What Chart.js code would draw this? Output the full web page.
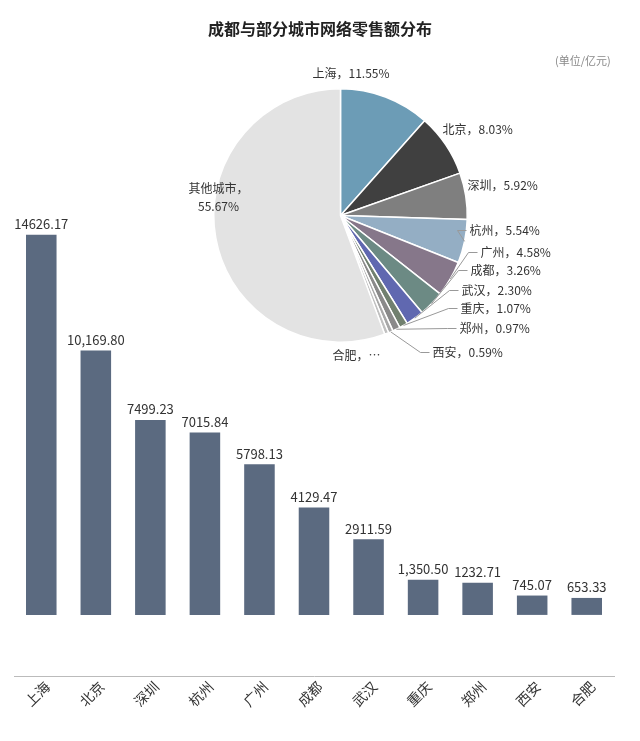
<!DOCTYPE html>
<html><head><meta charset="utf-8">
<script src="https://cdn.jsdelivr.net/npm/chart.js@4"></script>
<style>
body{margin:0;background:#fff;font-family:"Noto Sans CJK SC",sans-serif}
#wrap{position:relative;width:640px;height:741px}
#bar{position:absolute;left:0;top:0}
#pie{position:absolute;left:0;top:0}
#title{position:absolute;top:16px;width:640px;text-align:center;font-weight:bold;font-size:16px;color:#222}
#unit{position:absolute;top:52px;left:555px;font-size:11px;color:#888}
</style></head>
<body><div id="wrap">
<canvas id="bar" width="640" height="741"></canvas>
<canvas id="pie" width="640" height="741"></canvas>
<div id="title">成都与部分城市网络零售额分布</div>
<div id="unit">(单位/亿元)</div>
</div>
<script>
// 柱状图数据
const cities = ["上海","北京","深圳","杭州","广州","成都","武汉","重庆","郑州","西安","合肥"];
const sales = [14626.17,10169.80,7499.23,7015.84,5798.13,4129.47,2911.59,1350.50,1232.71,745.07,653.33];
const salesText = ["14626.17","10,169.80","7499.23","7015.84","5798.13","4129.47","2911.59","1,350.50","1232.71","745.07","653.33"];

// 饼图数据
const pieNames = ["上海","北京","深圳","杭州","广州","成都","武汉","重庆","郑州","西安","合肥","其他城市"];
const pieShares = [11.55,8.03,5.92,5.54,4.58,3.26,2.30,1.07,0.97,0.59,0.52,55.67];
const pieText = ["上海，11.55%","北京，8.03%","深圳，5.92%","杭州，5.54%","广州，4.58%","成都，3.26%","武汉，2.30%","重庆，1.07%","郑州，0.97%","西安，0.59%","合肥，…","其他城市，\n55.67%"];
const pieColors = ["#6c9cb6","#404040","#7f7f7f","#94aec4","#86778a","#6c8a84","#6068b0","#71806f","#8a8a8a","#a8a8a8","#c0c0c0","#e3e3e3"];

const FONT = '"Noto Sans CJK SC", sans-serif';

/* ---- 柱顶数值 + 旋转的类别标签 ---- */
const barLabels = {
  id: "barLabels",
  afterDatasetsDraw(chart) {
    const ctx = chart.ctx;
    const meta = chart.getDatasetMeta(0);
    const base = chart.scales.y.bottom;
    ctx.save();
    ctx.fillStyle = "#333";
    ctx.font = "13px " + FONT;
    ctx.textAlign = "center";
    ctx.textBaseline = "bottom";
    meta.data.forEach((b, i) => {
      ctx.fillText(salesText[i], b.x, b.y - 4);
    });
    ctx.font = "14px " + FONT;
    meta.data.forEach((b, i) => {
      ctx.save();
      ctx.translate(b.x + 6, base + 8);
      ctx.rotate(-Math.PI / 4);
      ctx.textAlign = "right";
      ctx.textBaseline = "middle";
      ctx.fillText(cities[i], 0, 0);
      ctx.restore();
    });
    ctx.restore();
  }
};

new Chart(document.getElementById("bar"), {
  type: "bar",
  data: { labels: cities, datasets: [{ data: sales, backgroundColor: "#5b6a80",
    barPercentage: 0.56, categoryPercentage: 1 }] },
  options: {
    responsive: false, animation: false,
    layout: { padding: { left: 14, right: 26, top: 199, bottom: 65 } },
    plugins: { legend: { display: false }, tooltip: { enabled: false } },
    scales: {
      x: { ticks: { display: false }, grid: { display: false, drawTicks: false },
           border: { color: "#bbb" } },
      y: { display: false, min: -2350, max: 16000 }
    }
  },
  plugins: [barLabels]
});

/* ---- 饼图标签（引导线） ---- */
const labelPos = [[-28,-142],[102,-86],[127,-30],[129,15],[140,37],[130,55],[121,75],[120,93],[119,113],[92,137],[-8,140],[-122,-18]];
const pieLabels = {
  id: "pieLabels",
  afterDatasetsDraw(chart) {
    const ctx = chart.ctx;
    const meta = chart.getDatasetMeta(0);
    ctx.save();
    ctx.font = "12px " + FONT;
    ctx.fillStyle = "#333";
    ctx.strokeStyle = "#999";
    ctx.lineWidth = 1;
    meta.data.forEach((a, i) => {
      const mid = (a.startAngle + a.endAngle) / 2;
      const cx = a.x, cy = a.y;
      const tx = cx + labelPos[i][0], ty = cy + labelPos[i][1];
      const lines = pieText[i].split("\n");
      if (i >= 3 && i <= 9) {
        const ax = cx + Math.cos(mid) * a.outerRadius;
        const ay = cy + Math.sin(mid) * a.outerRadius;
        ctx.beginPath();
        ctx.moveTo(ax, ay);
        ctx.lineTo(tx - 12, ty);
        ctx.lineTo(tx - 3, ty);
        ctx.stroke();
      }
      ctx.textAlign = i === 11 ? "center" : "left";
      ctx.textBaseline = "middle";
      lines.forEach((l, k) => ctx.fillText(l, tx, ty + k * 18 - (lines.length - 1) * 9));
    });
    ctx.restore();
  }
};

new Chart(document.getElementById("pie"), {
  type: "pie",
  data: { labels: pieNames, datasets: [{ data: pieShares, backgroundColor: pieColors,
    borderColor: "#fff", borderWidth: 1.5 }] },
  options: {
    responsive: false, animation: false,
    layout: { padding: { left: 213, right: 172, top: 88, bottom: 398 } },
    plugins: { legend: { display: false }, tooltip: { enabled: false } }
  },
  plugins: [pieLabels]
});
</script>
</body></html>
